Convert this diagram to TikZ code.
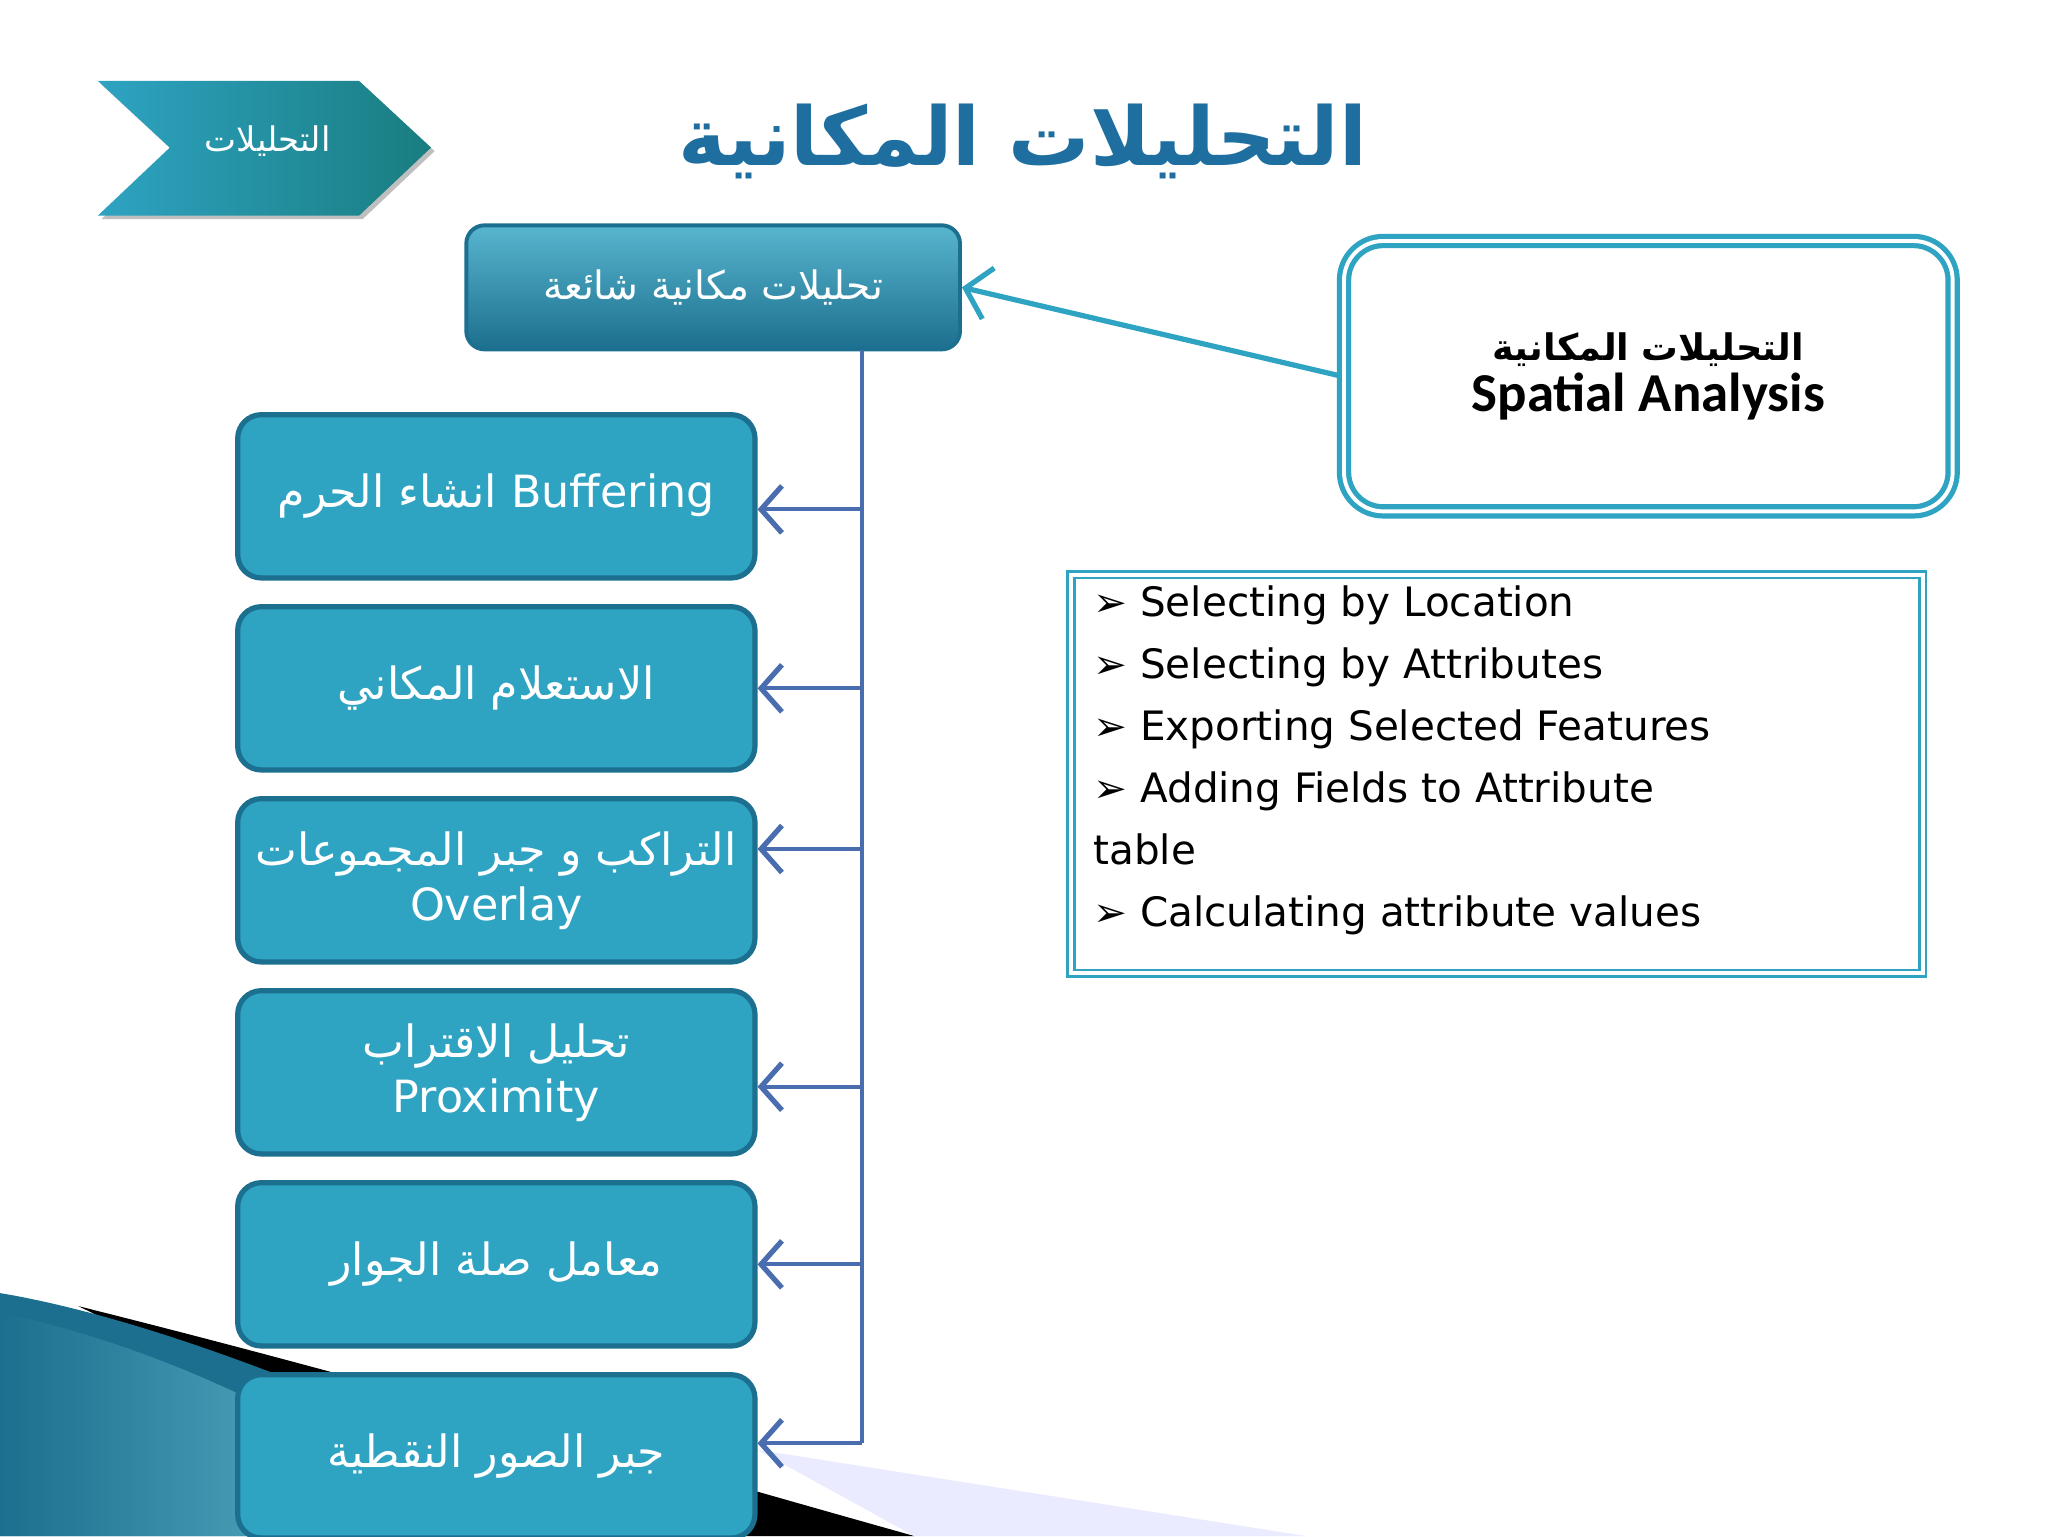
\documentclass[tikz,border=0pt]{standalone}
\usepackage{fontspec}
\setmainfont{DejaVu Sans}
\newfontfamily\arabicfont[Script=Arabic]{DejaVu Sans}
\newfontfamily\calib{Carlito}
\TeXXeTstate=1
\usetikzlibrary{arrows.meta,shadows}
\definecolor{teal1}{HTML}{2EA3C2}
\definecolor{tealdk}{HTML}{1C6F8E}
\definecolor{connc}{HTML}{4A6DAF}
\definecolor{titlec}{HTML}{1E6FA0}
\newcommand{\ar}[1]{{\arabicfont\beginR #1\endR}}
\begin{document}
\begin{tikzpicture}[x=1pt,y=-1pt,
  lbox/.style={draw=tealdk,line width=4pt,fill=teal1,rounded corners=18pt,minimum width=396pt,minimum height=125pt,text=white,align=center,font=\fontsize{34}{42}\selectfont},
  conn/.style={draw=connc,line width=3pt,-{Straight Barb[length=16pt,width=36pt,line width=4pt]}},
  vline/.style={draw=connc,line width=3pt}]
\useasboundingbox (0,0) rectangle (1568,1176);
\fill[white] (0,0) rectangle (1568,1176);
% bottom-left swoosh
\fill[black] (60,1000) .. controls (300,1060) and (500,1120) .. (700,1176) -- (420,1176) -- cycle;
\fill[tealdk] (0,990) .. controls (120,1010) and (300,1080) .. (480,1176) -- (0,1176) -- cycle;
\shade[left color=tealdk, right color=teal1!70!white] (0,1005) .. controls (120,1030) and (250,1090) .. (360,1176) -- (0,1176) -- cycle;
\fill[blue!8] (580,1110) -- (1000,1176) -- (700,1176) -- cycle;
% chevron
\shade[left color=teal1,right color=tealdk!90!green,drop shadow] (75,62) -- (275,62) -- (330,113) -- (275,165) -- (75,165) -- (130,113) -- cycle;
\node (chev) at (205,108) {\fontsize{26}{30}\selectfont\color{white}\ar{التحليلات}};
% title
\node (title) at (783,108) {\fontsize{62}{70}\selectfont\bfseries\color{titlec}\ar{التحليلات المكانية}};
% top box
\node[draw=tealdk,line width=3pt,top color=teal1!80!white,bottom color=tealdk,rounded corners=14pt,minimum width=378pt,minimum height=95pt,text=white,font=\fontsize{30}{36}\selectfont] (top) at (546,220) {\ar{تحليلات مكانية شائعة}};
% right box
\node[draw=teal1,line width=4pt,double=white,double distance=3pt,rounded corners=30pt,minimum width=466pt,minimum height=207pt,align=center] (sa) at (1262,288) {{\fontsize{28}{34}\selectfont\bfseries\ar{التحليلات المكانية}}\\[4pt]{\calib\fontsize{42}{48}\selectfont\bfseries Spatial Analysis}};
\draw[draw=teal1,line width=4pt,-{Straight Barb[length=18pt,width=40pt,line width=4pt]}] (sa.west) -- (top.east);
% list box
\node[draw=teal1,line width=2pt,double=white,double distance=3pt,minimum width=652pt,minimum height=305pt,anchor=north west,inner sep=0pt] (lst) at (819,439) {};
\node[anchor=north west,align=left,font=\fontsize{31}{47.5}\selectfont,inner sep=0pt] (lt) at (837,448) {%
➢ Selecting by Location\\
➢ Selecting by Attributes\\
➢ Exporting Selected Features\\
➢ Adding Fields to Attribute\\
table\\
➢ Calculating attribute values};
% left boxes
\node[lbox] (b1) at (380,380) {\ar{انشاء الحرم} Buffering};
\node[lbox] (b2) at (380,527) {\ar{الاستعلام المكاني}};
\node[lbox] (b3) at (380,674) {\ar{التراكب و جبر المجموعات}\\Overlay};
\node[lbox] (b4) at (380,821) {\ar{تحليل الاقتراب}\\Proximity};
\node[lbox] (b5) at (380,968) {\ar{معامل صلة الجوار}};
\node[lbox] (b6) at (380,1115) {\ar{جبر الصور النقطية}};
% connectors
\coordinate (v0) at (660,268);
\foreach \i/\y in {1/390,2/527,3/650,4/832,5/968,6/1105}{
  \coordinate (v\i) at (660,\y);
  \draw[conn] (v\i) -- (b\i.east |- v\i);
}
\draw[vline] (v0) -- (v6);
\end{tikzpicture}
\end{document}
